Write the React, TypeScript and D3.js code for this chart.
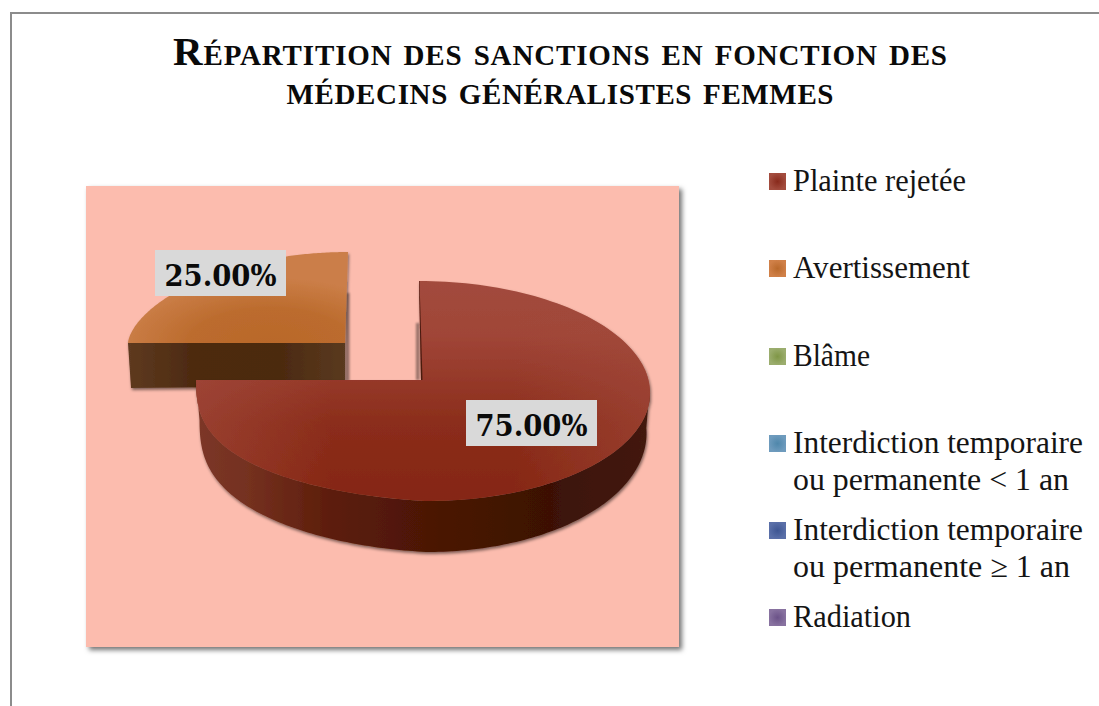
import React from "react";
import * as d3 from "d3";

const titleLines = ["Répartition des sanctions en fonction des", "médecins généralistes femmes"];
const titleWidths = [774, 547];
const categories = ["Plainte rejetée", "Avertissement", "Blâme", "Interdiction temporaire|ou permanente < 1 an", "Interdiction temporaire|ou permanente ≥ 1 an", "Radiation"];
const legendWidths = [[173], [177], [77], [290, 276], [290, 277], [118]];
const values = [75, 25, 0, 0, 0, 0];
const markerCentre = ["#892a1c", "#b9692b", "#7f9646", "#4f87ab", "#3e5693", "#6b5288"];
const markerEdge = ["#a34c3e", "#d08048", "#9bad6e", "#6e9bbd", "#5a6fa8", "#8872a0"];
const legendY = [181, 268, 356, 443, 530, 617];
const labelFormat = d3.format(".2f");

const W = 1099, H = 706;
const serif = "'Liberation Serif', serif";

type Geo = { cx: number; cy: number; rx: number; ry: number; shearX: number; leftLift: number; ax: number; ay: number; lowLeftExp: number; upLeftExp: number };
const geos: Record<number, Geo> = {
  0: { cx: 423, cy: 391, rx: 227, ry: 110, shearX: -4, leftLift: 11, ax: 421, ay: 380, lowLeftExp: 0.7, upLeftExp: 1 },
  1: { cx: 346, cy: 343, rx: 218, ry: 91, shearX: 2, leftLift: 0, ax: 345, ay: 343, lowLeftExp: 1, upLeftExp: 1.2 },
};
const pt = (g: Geo, a: number): [number, number] => {
  const s = Math.sin(a), c = Math.cos(a);
  let cy = c;
  if (s < 0 && c < 0) cy = -Math.pow(-c, g.lowLeftExp);
  if (s < 0 && c > 0) cy = Math.pow(c, g.upLeftExp);
  return [g.cx + g.rx * s + g.shearX * c, g.cy - g.ry * cy + (s < 0 ? g.leftLift * s : 0)];
};
const sample = (g: Geo, a0: number, a1: number) => d3.range(0, 161).map((i) => pt(g, a0 + ((a1 - a0) * i) / 160));
const line = d3.line();
const pie = d3.pie<number>().sort(null)(values);

export default function App() {
  const red = pie[0], orange = pie[1];
  const gR = geos[0], gO = geos[1];
  const topPath = (g: Geo, s: number, e: number) => `M${g.ax},${g.ay}L` + line(sample(g, s, e))!.slice(1) + "Z";
  const redTop = topPath(gR, red.startAngle, red.endAngle);
  const orangeTop = topPath(gO, orange.startAngle, orange.endAngle);

  const a0 = Math.PI / 2 - 0.03, a1 = (3 * Math.PI) / 2;
  const angles = d3.range(0, 161).map((i) => a0 + ((a1 - a0) * i) / 160);
  const upper = angles.map((a) => pt(gR, a));
  const lower = angles.map((a) => {
    const [x, y] = pt(gR, a);
    return [x - 3.5 * Math.sin(a), y + 40 + 11 * Math.abs(Math.cos(a))] as [number, number];
  });
  const wall = line(upper)! + "L" + line(lower.reverse())!.slice(1) + "Z";

  const top0 = pt(gR, 0);
  const inner = `M${top0[0]},${top0[1]}L${gR.ax},${gR.ay}L${gR.ax + 1.5},${gR.ay}L${top0[0] + 0.5},${top0[1]}Z`;

  const oL = pt(gO, orange.startAngle);
  const oWall = `M${oL[0]},${oL[1]}L${gO.ax},${gO.ay}L${gO.ax},${gO.ay + 43}L${oL[0] + 3},${oL[1] + 45}Z`;

  const labelOf = (i: number) => labelFormat(pie[i].value) + "%";
  const labelFont = "'DejaVu Serif Condensed', 'DejaVu Serif', serif";

  return (
    <svg width={W} height={H} style={{ position: "absolute", left: 0, top: 0, background: "#fff" }}>
      <defs>
        <filter id="bg" x="-5%" y="-5%" width="110%" height="110%">
          <feDropShadow dx="3" dy="3" stdDeviation="2.6" floodColor="#000" floodOpacity="0.55" />
        </filter>
        <filter id="pieS" x="-10%" y="-10%" width="120%" height="120%">
          <feDropShadow dx="1" dy="2" stdDeviation="1.6" floodColor="#000" floodOpacity="0.5" />
        </filter>
        <filter id="blur" x="-200%" y="-10%" width="500%" height="120%">
          <feGaussianBlur stdDeviation="1.2" />
        </filter>
        <linearGradient id="redTop" gradientUnits="userSpaceOnUse" x1="0" y1="281" x2="0" y2="501">
          <stop offset="0" stopColor="#a24b3d" />
          <stop offset="0.25" stopColor="#a04537" />
          <stop offset="0.65" stopColor="#8b2d1b" />
          <stop offset="1" stopColor="#852612" />
        </linearGradient>
        <linearGradient id="redSide" gradientUnits="userSpaceOnUse" x1="196" y1="0" x2="650" y2="0">
          <stop offset="0" stopColor="#a24b3d" stopOpacity="0.6" />
          <stop offset="0.3" stopColor="#a24b3d" stopOpacity="0" />
          <stop offset="0.7" stopColor="#a24b3d" stopOpacity="0" />
          <stop offset="1" stopColor="#a24b3d" stopOpacity="0.55" />
        </linearGradient>
        <radialGradient id="orangeTop" gradientUnits="userSpaceOnUse" cx="270" cy="345" r="150" gradientTransform="translate(0 190) scale(1 0.45)">
          <stop offset="0" stopColor="#b9682a" />
          <stop offset="0.55" stopColor="#bc6c2e" />
          <stop offset="1" stopColor="#cb7e48" />
        </radialGradient>
        <linearGradient id="redWall" gradientUnits="userSpaceOnUse" x1="196" y1="0" x2="650" y2="0">
          <stop offset="0" stopColor="#7c3728" />
          <stop offset="0.12" stopColor="#74301f" />
          <stop offset="0.3" stopColor="#5c1d0a" />
          <stop offset="0.55" stopColor="#491505" />
          <stop offset="0.78" stopColor="#3c1106" />
          <stop offset="1" stopColor="#431a10" />
        </linearGradient>
        <linearGradient id="orangeWall" gradientUnits="userSpaceOnUse" x1="128" y1="0" x2="346" y2="0">
          <stop offset="0" stopColor="#5e3a20" />
          <stop offset="0.3" stopColor="#4d2a10" />
          <stop offset="0.7" stopColor="#4c2a10" />
          <stop offset="1" stopColor="#5a3a20" />
        </linearGradient>
        {categories.map((_, i) => (
          <radialGradient key={i} id={`mk${i}`}>
            <stop offset="0" stopColor={markerCentre[i]} />
            <stop offset="1" stopColor={markerEdge[i]} />
          </radialGradient>
        ))}
      </defs>

      <path d={`M11,${H}V13H${W}`} fill="none" stroke="#8c8c8c" strokeWidth={2} />

      <text textAnchor="middle" fontFamily={serif} fontWeight="bold" fontSize={41}
        style={{ fontVariant: "small-caps" }} fill="#0a0a0a">
        {titleLines.map((t, i) => (
          <tspan key={i} x={560} y={[65, 104][i]} textLength={titleWidths[i]} lengthAdjust="spacing">{t}</tspan>
        ))}
      </text>

      <rect x={86} y={186} width={593} height={461} fill="#fcbcae" filter="url(#bg)" />

      <rect x={346} y={293} width={3.5} height={88} fill="#000" opacity={0.4} filter="url(#blur)" />
      <g filter="url(#pieS)">
        <path d={orangeTop} fill="url(#orangeTop)" />
        <path d={oWall} fill="url(#orangeWall)" />
      </g>
      <rect x={416} y={323} width={3.5} height={57} fill="#000" opacity={0.4} filter="url(#blur)" />
      <g filter="url(#pieS)">
        <path d={wall} fill="url(#redWall)" />
        <path d={redTop} fill="url(#redTop)" />
        <path d={redTop} fill="url(#redSide)" />
        <path d={inner} fill="#4a1a10" />
      </g>

      <rect x={155} y={250} width={131} height={46} fill="#d9d9d9" />
      <text x={220.5} y={286} textAnchor="middle" fontFamily={labelFont} fontWeight="bold" fontSize={30} fill="#0a0a0a" textLength={112} lengthAdjust="spacingAndGlyphs">{labelOf(1)}</text>
      <rect x={466} y={400} width={131} height={46} fill="#d9d9d9" />
      <text x={531.5} y={436} textAnchor="middle" fontFamily={labelFont} fontWeight="bold" fontSize={30} fill="#0a0a0a" textLength={112} lengthAdjust="spacingAndGlyphs">{labelOf(0)}</text>

      {categories.map((c, i) => {
        const lines = c.split("|");
        return (
          <g key={c}>
            <rect x={769} y={legendY[i] - 8} width={17} height={17} fill={`url(#mk${i})`} />
            {lines.map((l, j) => (
              <text key={j} x={793} y={legendY[i] + 10 + j * 37} fontFamily={serif} fontSize={31}
                textLength={legendWidths[i][j]} lengthAdjust="spacingAndGlyphs" fill="#141414">{l}</text>
            ))}
          </g>
        );
      })}
    </svg>
  );
}
